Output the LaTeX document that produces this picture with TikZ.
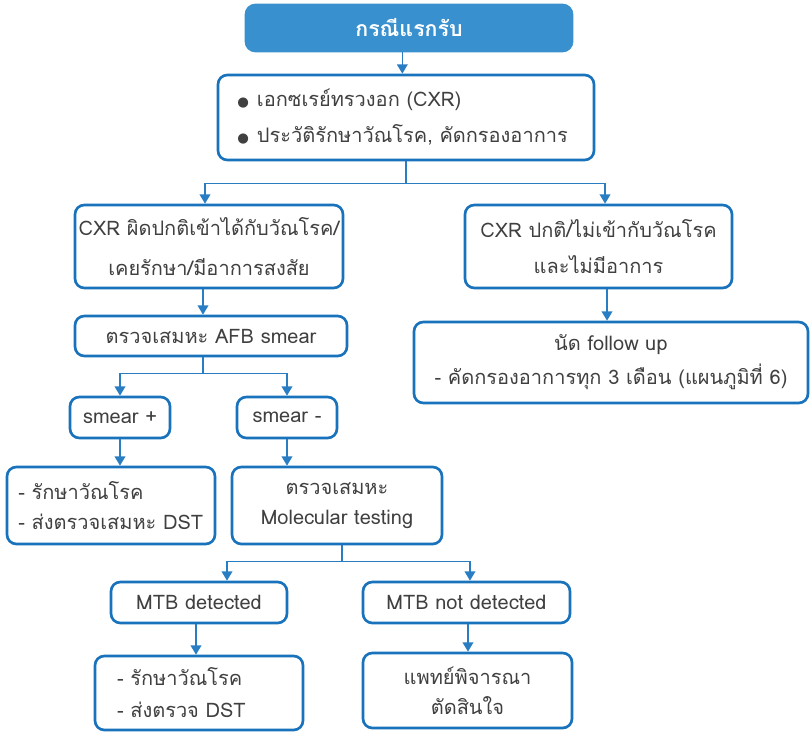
\documentclass[tikz,border=0pt]{standalone}
\usepackage{fontspec}
\setmainfont[Script=Thai]{Loma}
\newfontfamily\symfont{DejaVu Sans}
\usetikzlibrary{arrows.meta,calc}
\definecolor{bord}{RGB}{24,114,188}
\definecolor{conn}{RGB}{40,125,195}
\definecolor{headfill}{RGB}{56,144,206}
\definecolor{txt}{RGB}{64,64,64}
\newcommand{\blt}{{\symfont\fontsize{10}{10}\selectfont ●}\hspace{6pt}}
\begin{document}
\begin{tikzpicture}[x=0.75pt,y=-0.75pt,
  box/.style={draw=bord, line width=2pt, rounded corners=7pt, fill=white,
    text=txt, inner sep=0pt, align=center,
    font=\fontsize{15}{28}\selectfont},
  head/.style={box, fill=headfill, draw=headfill, text=white,
    font=\fontsize{16}{20}\selectfont\bfseries},
  link/.style={draw=conn, line width=1.2pt},
  arr/.style={link, -{Triangle[width=8pt,length=7pt]}}]
\useasboundingbox (0,0) rectangle (810,732);

% boxes
\node[head, minimum width=244.5pt, minimum height=34.5pt] (top) at (409,28) {กรณีแรกรับ};
\node[box, minimum width=282pt, minimum height=63.75pt, align=left,
  text width=253pt, inner xsep=14pt, font=\fontsize{15}{27}\selectfont] (hist) at (406,117.5)
  {\blt เอกซเรย์ทรวงอก (CXR)\\ \blt ประวัติรักษาวัณโรค, คัดกรองอาการ};
\node[box, minimum width=201pt, minimum height=62.25pt, font=\fontsize{15}{30}\selectfont] (abn) at (209,246.5)
  {CXR ผิดปกติเข้าได้กับวัณโรค/\\ เคยรักษา/มีอาการสงสัย};
\node[box, minimum width=200.25pt, minimum height=62.25pt, font=\fontsize{15}{27}\selectfont] (norm) at (598.5,246.5)
  {CXR ปกติ/ไม่เข้ากับวัณโรค\\ และไม่มีอาการ};
\node[box, minimum width=295.5pt, minimum height=60.75pt, font=\fontsize{15}{25.5}\selectfont] (fup) at (611,362.5)
  {นัด follow up\\ - คัดกรองอาการทุก 3 เดือน (แผนภูมิที่ 6)};
\node[box, minimum width=204pt, minimum height=30pt] (afb) at (211,336) {ตรวจเสมหะ AFB smear};
\node[box, minimum width=75pt, minimum height=30.75pt] (spos) at (120,417.5) {smear +};
\node[box, minimum width=75pt, minimum height=30.75pt] (sneg) at (287,417.5) {smear -};
\node[box, minimum width=156pt, minimum height=57.75pt, align=left, text width=139pt,
  inner xsep=8.5pt, font=\fontsize{15}{22.5}\selectfont] (treat) at (111,505.5)
  {- รักษาวัณโรค\\ - ส่งตรวจเสมหะ DST};
\node[box, minimum width=157.5pt, minimum height=57.75pt, font=\fontsize{15}{22.5}\selectfont] (mol) at (337,505.5)
  {ตรวจเสมหะ\\ Molecular testing};
\node[box, minimum width=132pt, minimum height=30.75pt] (det) at (199,602.5) {MTB detected};
\node[box, minimum width=155.25pt, minimum height=30.75pt] (ndet) at (466.5,602.5) {MTB not detected};
\node[box, minimum width=156pt, minimum height=55.5pt, align=left, text width=123pt,
  inner xsep=16.5pt, font=\fontsize{15}{24}\selectfont] (treat2) at (199,693)
  {- รักษาวัณโรค\\ - ส่งตรวจ DST};
\node[box, minimum width=156.75pt, minimum height=56.25pt, font=\fontsize{15}{22.5}\selectfont] (doc) at (467.5,690.5)
  {แพทย์พิจารณา\\ ตัดสินใจ};

% connectors
\draw[arr] ([xshift=-5pt]top.south) -- ([xshift=-5pt]top.south |- hist.north);
\draw[link] (hist.south) -- ++(0,22) coordinate (s1);
\draw[arr] (s1) -| ([xshift=-3pt]abn.north);
\draw[arr] (s1) -| ([xshift=4.9pt]norm.north);
\draw[arr] ([xshift=-4.5pt]abn.south) -- ([xshift=-4.5pt]abn.south |- afb.north);
\draw[arr] ([xshift=6.4pt]norm.south) -- ([xshift=6.4pt]norm.south |- fup.north);
\draw[link] ([xshift=-6pt]afb.south) -- ++(0,16) coordinate (s2);
\draw[arr] (s2) -| (spos.north);
\draw[arr] (s2) -| (sneg.north);
\draw[arr] (spos.south) -- (spos.south |- treat.north);
\draw[arr] (sneg.south) -- (sneg.south |- mol.north);
\draw[link] ([xshift=3.75pt]mol.south) -- ++(0,16) coordinate (s3);
\draw[arr] (s3) -| ([xshift=21pt]det.north);
\draw[arr] (s3) -| ([xshift=2.6pt]ndet.north);
\draw[arr] ([xshift=-2.25pt]det.south) -- ([xshift=-2.25pt]det.south |- treat2.north);
\draw[arr] ([xshift=1.1pt]ndet.south) -- ([xshift=1.1pt]ndet.south |- doc.north);
\end{tikzpicture}
\end{document}
